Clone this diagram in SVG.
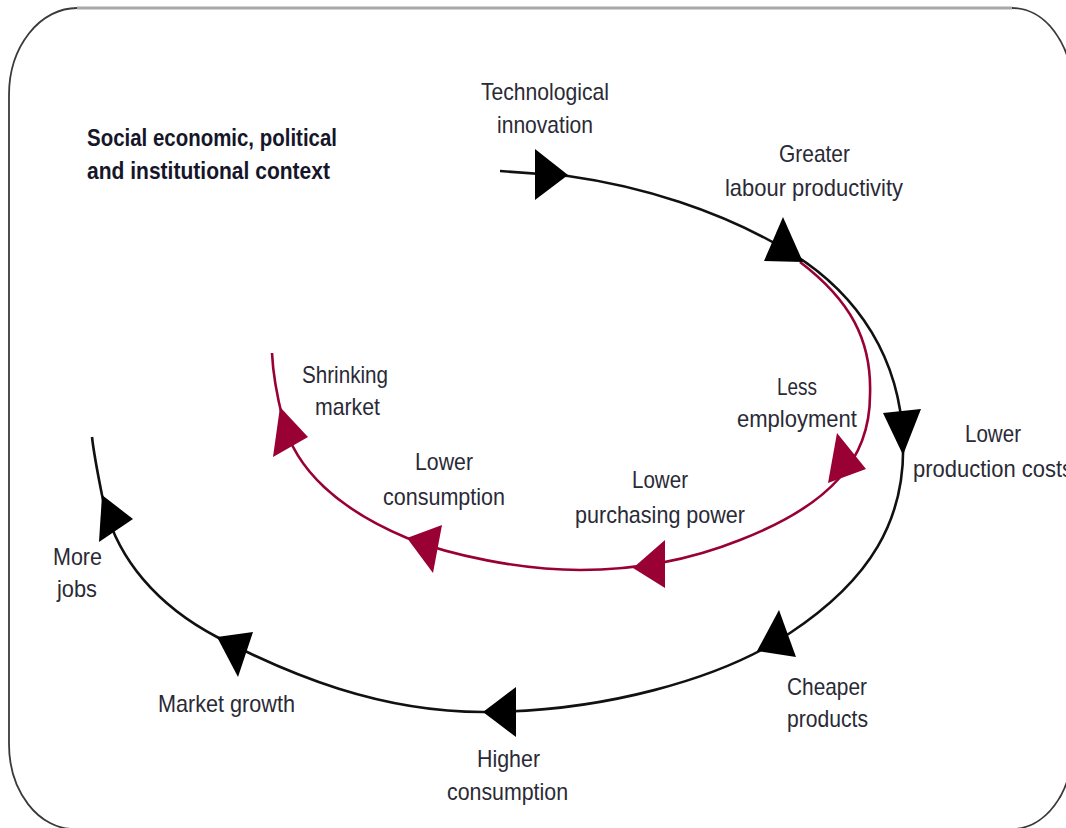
<svg xmlns="http://www.w3.org/2000/svg" width="1066" height="828" viewBox="0 0 1066 828">
<style>
.frame{fill:none;stroke:#3a3a3a;stroke-width:1.8}
.topline{fill:none;stroke:#a8a8a8;stroke-width:3}
.blk{fill:none;stroke:#111;stroke-width:2.6}
.red{fill:none;stroke:#990033;stroke-width:2.6}
.ab{fill:#000}
.ar{fill:#990033}
text{font-family:"Liberation Sans Narrow","Liberation Sans",Arial,sans-serif;font-size:24px;fill:#2a2a36}
.t{font-weight:bold;fill:#16162a;font-size:24px}
</style>
<rect width="1066" height="828" fill="#fff"/>
<g id="frame">
<path class="frame" d="M77,8 H1012 A60,80 0 0 1 1072,88 V749 A60,80 0 0 1 1012,829 H74 A65,85 0 0 1 9,744 V95 A68,87 0 0 1 77,8 Z"/>
<path class="topline" d="M77,8 H1012"/>
</g>
<g id="connectors">
<path class="blk" d="M500,171 L568,176 C640,186 720,210 790,252 C860,295 900,360 903,440 C906,520 870,580 790,633 C720,680 600,712 483,712 C380,712 290,675 217,637 C160,607 115,560 102,495 C97,470 94,455 92,437"/>
<path class="red" d="M800,262 C850,300 872,340 870,395 C870,460 830,505 740,540 C690,560 640,570 580,570 C520,570 450,555 407,538 C340,510 295,470 283,420 C278,400 273,375 272,353"/>
<polygon class="ab" points="535,149 568,175 535,200"/>
<polygon class="ab" points="783,217 803,262 764,261"/>
<polygon class="ab" points="883,413 921,409 903,455"/>
<polygon class="ab" points="779,610 796,657 757,651"/>
<polygon class="ab" points="483,712 516,687 516,737"/>
<polygon class="ab" points="217,637 253,632 238,677"/>
<polygon class="ab" points="102,495 133,519 99,542"/>
<polygon class="ar" points="837,433 866,469 828,483"/>
<polygon class="ar" points="633,568 665,540 665,588"/>
<polygon class="ar" points="407,538 442,525 433,573"/>
<polygon class="ar" points="280,407 308,437 273,457"/>
</g>
<g id="context">
<text class="t" x="87" y="146" textLength="250" lengthAdjust="spacingAndGlyphs">Social economic, political</text>
<text class="t" x="87" y="179" textLength="243" lengthAdjust="spacingAndGlyphs">and institutional context</text>
</g>
<g id="technological-innovation">
<text x="481" y="100" textLength="128" lengthAdjust="spacingAndGlyphs">Technological</text>
<text x="497" y="133" textLength="96" lengthAdjust="spacingAndGlyphs">innovation</text>
</g>
<g id="greater-labour-productivity">
<text x="779" y="162" textLength="71" lengthAdjust="spacingAndGlyphs">Greater</text>
<text x="725" y="196" textLength="178" lengthAdjust="spacingAndGlyphs">labour productivity</text>
</g>
<g id="lower-production-costs">
<text x="965" y="442" textLength="56" lengthAdjust="spacingAndGlyphs">Lower</text>
<text x="913" y="477" textLength="160" lengthAdjust="spacingAndGlyphs">production costs</text>
</g>
<g id="cheaper-products">
<text x="787" y="695" textLength="80" lengthAdjust="spacingAndGlyphs">Cheaper</text>
<text x="787" y="727" textLength="81" lengthAdjust="spacingAndGlyphs">products</text>
</g>
<g id="higher-consumption">
<text x="477" y="767" textLength="63" lengthAdjust="spacingAndGlyphs">Higher</text>
<text x="447" y="800" textLength="121" lengthAdjust="spacingAndGlyphs">consumption</text>
</g>
<g id="market-growth">
<text x="158" y="712" textLength="137" lengthAdjust="spacingAndGlyphs">Market growth</text>
</g>
<g id="more-jobs">
<text x="53" y="565" textLength="49" lengthAdjust="spacingAndGlyphs">More</text>
<text x="57" y="597" textLength="40" lengthAdjust="spacingAndGlyphs">jobs</text>
</g>
<g id="less-employment">
<text x="777" y="395" textLength="40" lengthAdjust="spacingAndGlyphs">Less</text>
<text x="737" y="427" textLength="120" lengthAdjust="spacingAndGlyphs">employment</text>
</g>
<g id="lower-purchasing-power">
<text x="632" y="488" textLength="56" lengthAdjust="spacingAndGlyphs">Lower</text>
<text x="575" y="523" textLength="170" lengthAdjust="spacingAndGlyphs">purchasing power</text>
</g>
<g id="lower-consumption">
<text x="415" y="470" textLength="58" lengthAdjust="spacingAndGlyphs">Lower</text>
<text x="383" y="505" textLength="122" lengthAdjust="spacingAndGlyphs">consumption</text>
</g>
<g id="shrinking-market">
<text x="302" y="383" textLength="86" lengthAdjust="spacingAndGlyphs">Shrinking</text>
<text x="315" y="415" textLength="65" lengthAdjust="spacingAndGlyphs">market</text>
</g>
</svg>
